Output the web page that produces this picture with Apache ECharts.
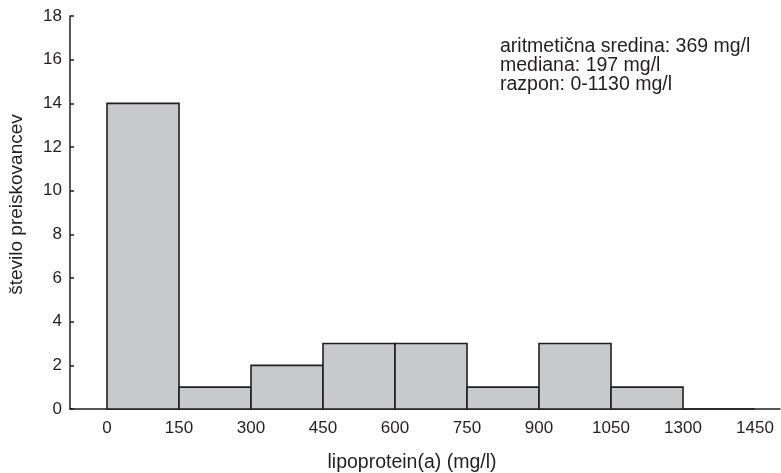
<!DOCTYPE html>
<html>
<head>
<meta charset="utf-8">
<script src="https://cdn.jsdelivr.net/npm/echarts@6/dist/echarts.min.js"></script>
<style>
  html, body { margin: 0; padding: 0; background: #fff; }
  #chart { width: 781px; height: 473px; }
</style>
</head>
<body>
<div id="chart"></div>
<script>
// Histogram bin edges (mg/l) and number of subjects in each bin
const binEdges = ['0', '150', '300', '450', '600', '750', '900', '1050', '1300', '1450'];
const counts = [14, 1, 2, 3, 3, 1, 3, 1, 0];
const yTicks = [0, 18, 2]; // min, max, step

const statsLines = [
  'aritmetična sredina: 369 mg/l',
  'mediana: 197 mg/l',
  'razpon: 0-1130 mg/l'
];

const FONT = 'Liberation Sans, Arial, Helvetica, sans-serif';
const INK = '#231f20';

const chart = echarts.init(document.getElementById('chart'), null, { renderer: 'canvas' });

const edgeIdx = binEdges.map((_, i) => i);

chart.setOption({
  animation: false,
  grid: { left: 70, right: 1, top: 16, bottom: 64, outerBoundsMode: 'none', containLabel: false },
  xAxis: {
    type: 'value',
    min: -0.514,
    max: 9.347,
    name: 'lipoprotein(a) (mg/l)',
    nameLocation: 'middle',
    nameGap: 44,
    nameTextStyle: { fontFamily: FONT, fontSize: 19.5, color: INK, padding: [0, 26, 0, 0] },
    axisLine: { show: true, onZero: false, lineStyle: { color: INK, width: 1.5 } },
    axisTick: { show: false },
    splitLine: { show: false },
    axisLabel: {
      customValues: edgeIdx,
      formatter: v => binEdges[Math.round(v)],
      fontFamily: FONT, fontSize: 17, color: INK, margin: 11
    }
  },
  yAxis: {
    type: 'value',
    min: yTicks[0],
    max: yTicks[1],
    interval: yTicks[2],
    name: 'število preiskovancev',
    nameLocation: 'middle',
    nameGap: 44,
    nameTextStyle: { fontFamily: FONT, fontSize: 19, color: INK, padding: [0, 0, 0, 16] },
    axisLine: { show: true, onZero: false, lineStyle: { color: INK, width: 1.5 } },
    axisTick: { show: true, inside: true, length: 4, lineStyle: { color: INK, width: 1.5 } },
    splitLine: { show: false },
    axisLabel: { fontFamily: FONT, fontSize: 17, color: INK, margin: 8 }
  },
  graphic: [{
    type: 'text',
    left: 500,
    top: 37,
    style: {
      text: statsLines.join('\n'),
      font: '19.5px ' + FONT,
      fill: INK,
      lineHeight: 18.7
    }
  }],
  series: [{
    type: 'custom',
    data: counts.map((c, i) => [i, c]),
    renderItem: (params, api) => {
      const i = api.value(0);
      const c = api.value(1);
      const p0 = api.coord([i, 0]);
      const p1 = api.coord([i + 1, c]);
      return {
        type: 'rect',
        shape: { x: p0[0], y: p1[1], width: p1[0] - p0[0], height: p0[1] - p1[1] },
        style: { fill: '#c8c9cb', stroke: INK, lineWidth: 1.6 }
      };
    }
  }]
});
</script>
</body>
</html>
